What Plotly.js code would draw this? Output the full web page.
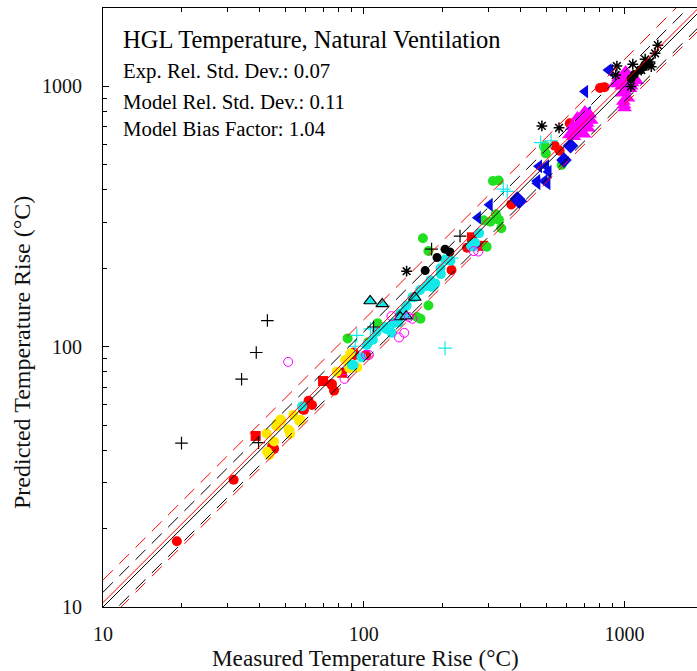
<!DOCTYPE html>
<html>
<head>
<meta charset="utf-8">
<script src="https://cdn.plot.ly/plotly-3.0.1.min.js"></script>
<style>
html,body{margin:0;padding:0;overflow:hidden;background:#fff;}
#chart{width:720px;height:671px;}
</style>
</head>
<body>
<div id="chart"></div>
<script>
// ---- statistics ----
const sigmaE = 0.07;
const sigmaM = 0.11;
const biasFactor = 1.04;
const lineX = [10, 2000];

// ---- data series (Measured, Predicted) ----
const redCircleX = [19.2, 31.7, 44.5, 45.3, 58.5, 59.0, 61.4, 63.3, 75.2, 75.5, 76.9, 91.5, 92.5, 102, 217, 249, 368, 540, 564, 617, 805, 838];
const redCircleY = [17.9, 30.8, 41.3, 40.5, 57.4, 57.2, 62.0, 59.7, 71.5, 71.9, 67.8, 95.0, 92.9, 93.0, 197, 240, 352, 591, 566, 721, 985, 993];

const redSquareX = [38.5, 69.8, 82.5, 260, 287];
const redSquareY = [45.4, 73.8, 79.4, 263, 244];

const yellowX = [42.6, 43.4, 45.3, 42.4, 46.2, 48.3, 53.7, 52.0, 52.2, 57.3, 46.6, 48.0, 51.4, 56.6, 78.8, 84.9, 86.1, 88.8, 88.0, 94.4];
const yellowY = [39.5, 38.4, 43.2, 46.4, 49.5, 52.0, 54.7, 47.5, 46.2, 52.3, 50.8, 52.5, 48.1, 51.9, 80.2, 88.8, 88.9, 94.1, 82.6, 83.2];

const greenX = [86.7, 104, 113, 160, 165, 177, 168.6, 177, 313, 329, 288, 306, 330, 321, 337, 296, 496, 491, 499, 574];
const greenY = [107.6, 104, 123, 130, 128, 144, 261, 233, 433, 435, 306, 302, 307, 323, 285, 242, 590, 587, 553, 499];

const cyanCircleX = [58, 90.1, 91.4, 98, 102.7, 108.4, 112, 120.6, 122, 130, 138, 145.2, 146, 153.8, 157, 164.5, 174, 182, 188, 197.5, 205, 215, 258, 263, 267.6, 277, 128, 136, 180, 197];
const cyanCircleY = [59, 85, 85, 91, 101.5, 106.4, 114, 119, 117, 123, 134, 143, 144, 155, 155, 165, 171, 170, 175, 190, 216, 214, 244, 242, 250, 273, 113, 124, 180, 200];

const cyanTriX = [105.8, 117.7, 157, 138, 145.5];
const cyanTriY = [149.8, 146, 154.5, 130, 131];

const cyanPlusX = [205, 94, 92.8, 106, 343, 355, 477, 523, 217];
const cyanPlusY = [98.7, 110.6, 100.4, 117, 403, 395, 608, 618, 219];

const magentaOpenX = [51.3, 84.4, 102, 104.6, 127.7, 136.5, 143, 148.8, 153.6, 264, 275];
const magentaOpenY = [87.4, 75.2, 93, 93, 131, 108.5, 113, 130, 128, 233, 232];

const blackPlusX = [20, 34, 38.7, 42.7, 39.5, 109, 182, 234];
const blackPlusY = [42.6, 75, 95, 126, 42.8, 119, 237, 266];

const blueTriX = [274, 304, 463, 470, 462, 500, 493, 506, 511, 706, 723, 868, 881];
const blueTriY = [313, 351, 424, 493, 433, 494, 433, 424, 470, 955, 792, 1155, 1148];

const blueDiamondX = [388, 395, 586, 621];
const blueDiamondY = [369, 362, 521, 591];

const magentaTriX = [615, 630, 650, 665, 680, 690, 700, 710, 720, 735, 745, 640, 675, 700, 725, 660, 705,
                     920, 950, 975, 990, 1000, 1010, 1020, 1030, 1040, 1050, 1070, 1090, 990, 995, 1000, 1010, 980, 1060, 1110];
const magentaTriY = [650, 700, 680, 720, 690, 740, 700, 760, 720, 780, 740, 640, 660, 655, 690, 760, 800,
                     1020, 1080, 1000, 1050, 960, 1100, 1010, 900, 1060, 980, 1030, 1080, 875, 848, 826, 1140, 940, 1000, 1050];

const blackCircleX = [172, 191, 205, 214, 1148, 1185, 1235, 1060, 1090];
const blackCircleY = [196, 220, 237, 231, 1156, 1190, 1220, 1070, 1110];

const asteriskX = [146, 482, 561, 935, 925, 1076, 1200, 1342, 1310, 1252, 1160, 1267, 1058];
const asteriskY = [195, 705, 693, 1197, 1106, 1216, 1271, 1440, 1340, 1240, 1155, 1190, 998];

// ---- texts ----
const plotTitle = 'HGL Temperature, Natural Ventilation';
const statLines = ['Exp. Rel. Std. Dev.: 0.07', 'Model Rel. Std. Dev.: 0.11', 'Model Bias Factor: 1.04'];
const xTitle = 'Measured Temperature Rise (°C)';
const yTitle = 'Predicted Temperature Rise (°C)';
const majorTicks = [10, 100, 1000];
const majorTickText = ['10', '100', '1000'];
const minorTicks = [20, 30, 40, 50, 60, 70, 80, 90, 200, 300, 400, 500, 600, 700, 800, 900, 2000];

// ---- build ----
const FONT = 'Liberation Serif, Times New Roman, Times, serif';
function pts(x, y, marker) {
  return {type: 'scatter', mode: 'markers', x: x, y: y, marker: marker, hoverinfo: 'x+y'};
}
const traces = [
  pts(redCircleX, redCircleY, {symbol: 'circle', size: 10, color: '#ff0000'}),
  pts(redSquareX, redSquareY, {symbol: 'square', size: 10, color: '#ff0000'}),
  pts(yellowX, yellowY, {symbol: 'circle', size: 10, color: '#ffe800'}),
  pts(greenX, greenY, {symbol: 'circle', size: 10, color: '#20e020'}),
  pts(cyanCircleX, cyanCircleY, {symbol: 'circle', size: 10, color: '#12eaea'}),
  pts(cyanTriX, cyanTriY, {symbol: 'triangle-up', size: 11, color: '#12eaea', line: {color: '#000', width: 1.2}}),
  pts(cyanPlusX, cyanPlusY, {symbol: 'cross-thin', size: 10, color: '#12eaea', line: {color: '#12eaea', width: 1.2}}),
  pts(magentaOpenX, magentaOpenY, {symbol: 'circle-open', size: 9, color: '#ff00ff', line: {color: '#ff00ff', width: 1}}),
  pts(blackPlusX, blackPlusY, {symbol: 'cross-thin', size: 9, color: '#000', line: {color: '#000', width: 1.2}}),
  pts(blueTriX, blueTriY, {symbol: 'triangle-left', size: 12, color: '#0a0ae6'}),
  pts(blueDiamondX, blueDiamondY, {symbol: 'diamond', size: 12, color: '#0a0ae6'}),
  pts(magentaTriX, magentaTriY, {symbol: 'triangle-up', size: 13, color: '#ff00ff'}),
  pts(blackCircleX, blackCircleY, {symbol: 'circle', size: 9, color: '#000'}),
  pts(asteriskX, asteriskY, {symbol: 'asterisk-open', size: 9, color: '#000', line: {color: '#000', width: 1.5}})
];
const DASH = '14px,9px';
function line(f, color, dash) {
  return {type: 'scatter', mode: 'lines', x: lineX, y: lineX.map(v => v * f),
          line: {color: color, width: 1, dash: dash}, hoverinfo: 'skip'};
}
traces.push(line(1, '#000', 'solid'));
traces.push(line(1 + 2 * sigmaE, '#000', DASH));
traces.push(line(1 / (1 + 2 * sigmaE), '#000', DASH));
traces.push(line(biasFactor, '#ff0000', 'solid'));
traces.push(line(biasFactor * (1 + 2 * sigmaM), '#ff0000', DASH));
traces.push(line(biasFactor / (1 + 2 * sigmaM), '#ff0000', DASH));

function axis(labelStandoff) {
  return {
    type: 'log', range: [1, Math.log10(2000)], autorange: false,
    tickmode: 'array', tickvals: majorTicks, ticktext: majorTickText,
    ticks: 'inside', ticklen: 6, tickwidth: 1, tickcolor: '#000',
    minor: {tickmode: 'array', tickvals: minorTicks, ticks: 'inside', ticklen: 4, tickwidth: 1, tickcolor: '#000', showgrid: false},
    mirror: 'allticks', showline: true, linecolor: '#000', linewidth: 1,
    showgrid: false, zeroline: false,
    ticklabelstandoff: labelStandoff,
    tickfont: {family: FONT, size: 20, color: '#111'}
  };
}
const annotations = [
  {text: plotTitle, x: 0.030, y: 0.9466, xanchor: 'left', font: {family: FONT, size: 24.5, color: '#000'}}
].concat(statLines.map((t, i) => ({text: t, x: 0.030, y: [0.8948, 0.8447, 0.798][i], xanchor: 'left',
                                   font: {family: FONT, size: 20.8, color: '#000'}})));
// axis titles (placed where the reference shows them)
annotations.push({text: xTitle, x: 0.4367, y: -0.0851, xanchor: 'center', font: {family: FONT, size: 23.2, color: '#111'}});
annotations.push({text: yTitle, x: -0.135, y: 0.424, xanchor: 'center', textangle: -90, font: {family: FONT, size: 24, color: '#111'}});
annotations.forEach(a => { a.xref = 'paper'; a.yref = 'paper'; a.yanchor = 'middle'; a.showarrow = false; });

const layout = {
  width: 720, height: 671,
  margin: {l: 103, r: 17, t: 8, b: 64, pad: 0},
  paper_bgcolor: '#fff', plot_bgcolor: '#fff',
  showlegend: false,
  xaxis: axis(9),
  yaxis: axis(16),
  annotations: annotations,
  font: {family: FONT}
};
Plotly.newPlot('chart', traces, layout, {displayModeBar: false, staticPlot: true});
</script>
</body>
</html>
